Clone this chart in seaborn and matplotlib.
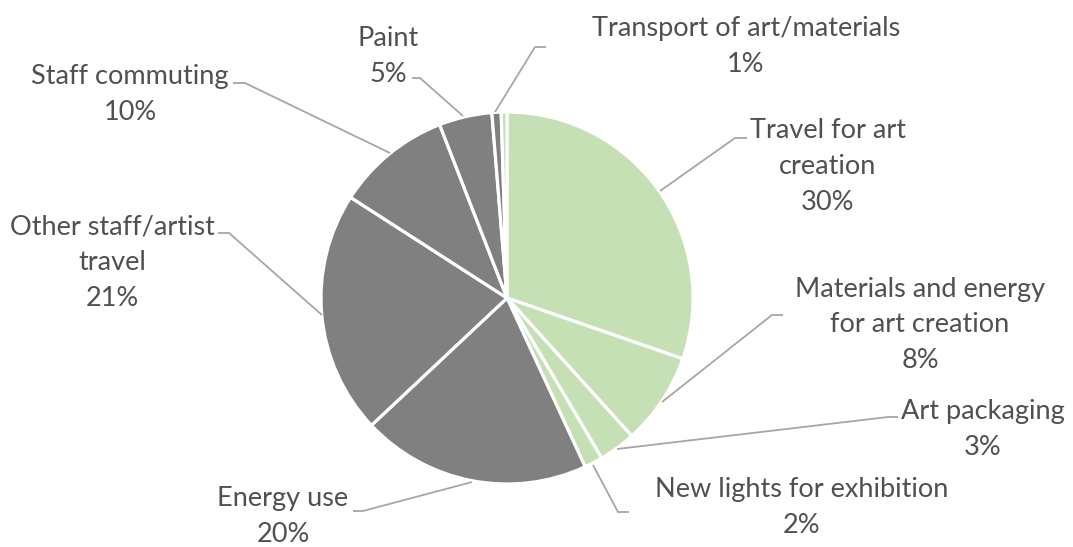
import matplotlib
matplotlib.use("Agg")
import matplotlib.pyplot as plt
import seaborn as sns

sns.set_theme(style="white")
plt.rcParams['font.family'] = ['Lato', 'DejaVu Sans']

# ---- data ----
categories = ["Travel for art\ncreation", "Materials and energy\nfor art creation",
              "Art packaging", "New lights for exhibition", "Energy use",
              "Other staff/artist\ntravel", "Staff commuting", "Paint",
              "Transport of art/materials", ""]
values = [30.3, 8.0, 3.2, 1.6, 19.9, 21.1, 10.0, 4.6, 0.8, 0.5]
groups = ["art", "art", "art", "art", "ops", "ops", "ops", "ops", "ops", "art"]

GREEN = "#C5E0B4"
GRAY = "#808080"
palette = {"art": GREEN, "ops": GRAY}
colors = [palette[g] for g in groups]

W, H = 1073, 547
fig = plt.figure(figsize=(W / 100, H / 100), dpi=100)
ax = fig.add_axes([0, 0, 1, 1])

cx, cy, r = 507, H - 298, 186
ax.pie(values, colors=colors, startangle=90, counterclock=False,
       center=(cx, cy), radius=r, frame=True,
       wedgeprops=dict(edgecolor="white", linewidth=2.3))
ax.set_xlim(0, W)
ax.set_ylim(0, H)
ax.set_aspect("equal")
ax.axis("off")

total = sum(values)
# label center (px), leader start, bend, end (px, image coords)
layout = [
    ((828, 167), (660, 191), (735, 138), (747, 138)),
    ((920, 325), (662, 402), (772, 315), (783, 315)),
    ((983, 429.5), (617, 449), (888, 417), (898, 417)),
    ((802, 507.5), (593, 465), (618, 512), (629, 512)),
    ((283, 516.5), (472, 482), (363, 511), (353, 511)),
    ((112, 263), (322, 315), (229, 233), (218, 233)),
    ((130, 94.5), (390, 153), (245, 83), (233, 83)),
    ((388, 57), (463, 116), (420, 78), (412, 78)),
    ((746, 46.5), (495, 112), (535, 47), (546, 47)),
    None,
]

TXT = "#505050"
LINE = "#A6A6A6"
for cat, v, lay in zip(categories, values, layout):
    if lay is None or not cat:
        continue
    (tx, ty), p0, p1, p2 = lay
    pct = f"{round(v / total * 100):d}%"
    ax.text(tx, H - ty, f"{cat}\n{pct}", ha="center", va="center",
            fontsize=19.5, color=TXT, linespacing=1.55)
    xs = [p0[0], p1[0], p2[0]]
    ys = [H - p0[1], H - p1[1], H - p2[1]]
    ax.plot(xs, ys, color=LINE, linewidth=1.3, solid_capstyle="butt")

fig.savefig("out.png", dpi=100, facecolor="white")
